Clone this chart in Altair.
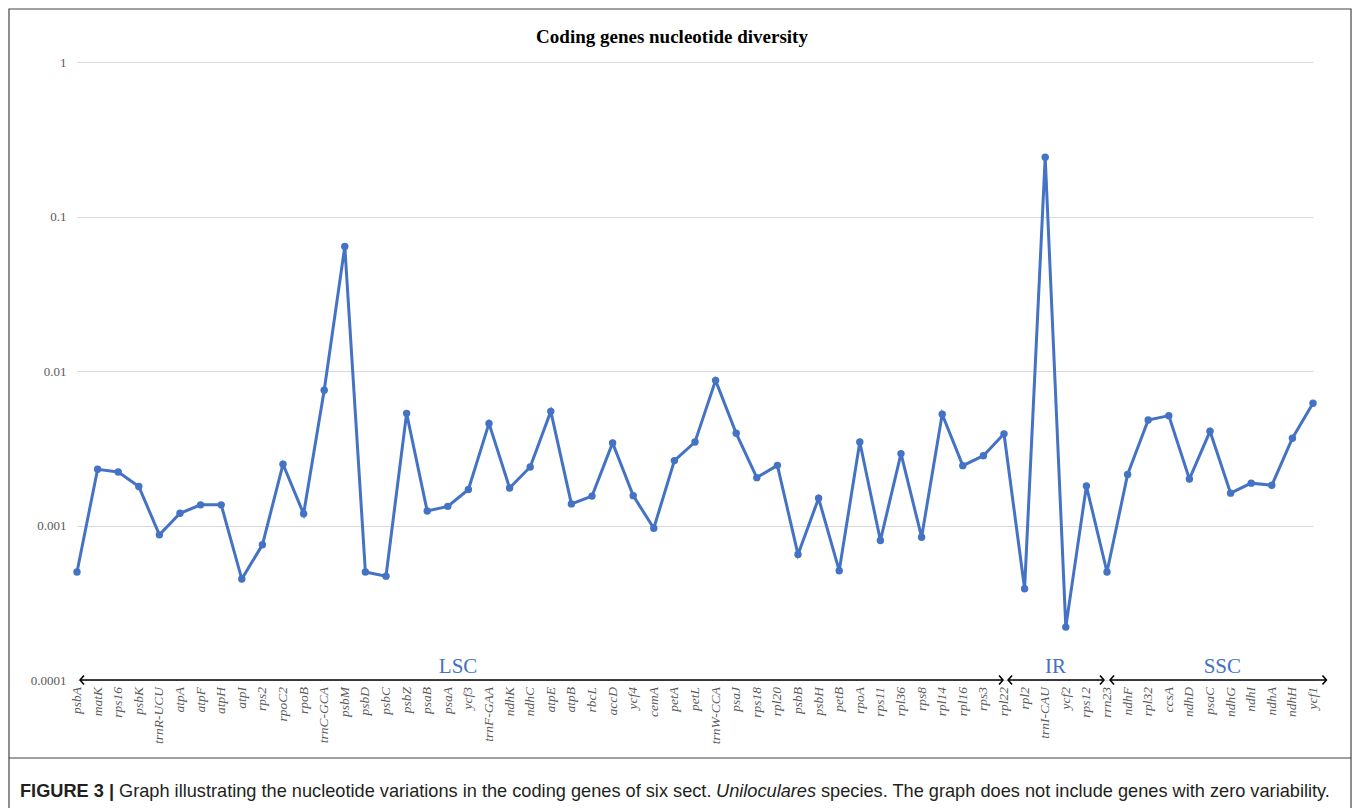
import altair as alt
import pandas as pd

# Coding genes with non-zero nucleotide diversity, in genome order
genes = [
    "psbA", "matK", "rps16", "psbK", "trnR-UCU", "atpA", "atpF", "atpH", "atpI", "rps2",
    "rpoC2", "rpoB", "trnC-GCA", "psbM", "psbD", "psbC", "psbZ", "psaB", "psaA", "ycf3",
    "trnF-GAA", "ndhK", "ndhC", "atpE", "atpB", "rbcL", "accD", "ycf4", "cemA", "petA",
    "petL", "trnW-CCA", "psaJ", "rps18", "rpl20", "psbB", "psbH", "petB", "rpoA", "rps11",
    "rpl36", "rps8", "rpl14", "rpl16", "rps3", "rpl22", "rpl2", "trnI-CAU", "ycf2", "rps12",
    "rrn23", "ndhF", "rpl32", "ccsA", "ndhD", "psaC", "ndhG", "ndhI", "ndhA", "ndhH", "ycf1",
]
diversity = [
    0.0005, 0.00231, 0.00222, 0.00179, 0.00087, 0.0012, 0.00136, 0.00136, 0.00045, 0.00075,
    0.00249, 0.00119, 0.0075, 0.064, 0.0005, 0.00047, 0.00532, 0.00124, 0.00133, 0.00171,
    0.00458, 0.00175, 0.00239, 0.00548, 0.00138, 0.00155, 0.00342, 0.00156, 0.00096, 0.00263,
    0.00347, 0.0087, 0.00395, 0.00204, 0.00245, 0.00065, 0.0015, 0.00051, 0.00347, 0.0008,
    0.00292, 0.00084, 0.00525, 0.00244, 0.00283, 0.00392, 0.00039, 0.242, 0.00022, 0.0018,
    0.0005, 0.00214, 0.00482, 0.00514, 0.002, 0.00407, 0.00162, 0.00188, 0.00182, 0.00367, 0.00618,
]
y_ticks = [0.0001, 0.001, 0.01, 0.1, 1]

# Chloroplast genome regions drawn as double-headed arrows along the x axis
region_names = ["LSC", "IR", "SSC"]
region_start = [0.15, 45.2, 50.15]
region_end = [44.95, 49.85, 60.65]
region_label_pos = [18.5, 47.5, 55.6]

BLUE = "#4472C4"
GREY = "#595959"
SERIF = "Liberation Serif"
W, H = 1236, 618
LEFT, TOP = 77, 62

df = pd.DataFrame({"i": list(range(len(genes))), "gene": genes, "pi": diversity})
regions = pd.DataFrame({
    "region": region_names, "start": region_start, "end": region_end,
    "label_x": region_label_pos, "y": [0.0001] * 3,
})

x_scale = alt.Scale(domain=[0, len(genes) - 1], nice=False, zero=False)
y_scale = alt.Scale(type="log", domain=[0.0001, 1], nice=False)

x_enc = alt.X("i:Q", scale=x_scale, axis=None)
y_enc = alt.Y(
    "pi:Q", scale=y_scale,
    axis=alt.Axis(
        values=y_ticks, format="~g", labelFont=SERIF, labelFontSize=13, labelColor=GREY,
        labelPadding=11, ticks=False, domain=False, gridColor="#d9d9d9", gridWidth=1,
        title=None,
    ),
)

line = alt.Chart(df).mark_line(color=BLUE, strokeWidth=3).encode(x=x_enc, y=y_enc)
dots = alt.Chart(df).mark_circle(color=BLUE, size=55, opacity=1).encode(
    x="i:Q", y="pi:Q"
)

# Gene names under the axis, rotated to read bottom-to-top
gene_labels = alt.Chart(df).mark_text(
    angle=270, align="right", baseline="middle", font=SERIF, fontStyle="italic",
    fontSize=13.5, color=GREY,
).encode(x="i:Q", y=alt.value(H + 7), text="gene:N")

arrow_base = alt.Chart(regions)
shaft = arrow_base.mark_rule(color="black", strokeWidth=1.6).encode(
    x="start:Q", x2="end:Q", y="y:Q"
)
head_left = arrow_base.mark_point(
    shape="M1.3,-1.5L0,0L1.3,1.5", filled=False, color="black", strokeWidth=1.6,
    size=36, opacity=1,
).encode(x="start:Q", y="y:Q")
head_right = arrow_base.mark_point(
    shape="M-1.3,-1.5L0,0L-1.3,1.5", filled=False, color="black", strokeWidth=1.6,
    size=36, opacity=1,
).encode(x="end:Q", y="y:Q")
region_text = arrow_base.mark_text(
    font=SERIF, fontSize=21, color=BLUE, baseline="bottom", dy=-3
).encode(x="label_x:Q", y="y:Q", text="region:N")

one = alt.Data(values=[{}])
title = alt.Chart(one).mark_text(
    text="Coding genes nucleotide diversity", font=SERIF, fontSize=19,
    fontWeight="bold", color="black", align="center", baseline="middle",
).encode(x=alt.value(672 - LEFT), y=alt.value(37 - TOP))

frame = alt.Chart(one).mark_rect(fill=None, stroke="#444444", strokeWidth=1.2).encode(
    x=alt.value(9 - LEFT), x2=alt.value(1351 - LEFT),
    y=alt.value(9 - TOP), y2=alt.value(758 - TOP),
)
side_left = alt.Chart(one).mark_rule(color="#444444", strokeWidth=1.2).encode(
    x=alt.value(9 - LEFT), y=alt.value(758 - TOP), y2=alt.value(820 - TOP)
)
side_right = alt.Chart(one).mark_rule(color="#444444", strokeWidth=1.2).encode(
    x=alt.value(1351 - LEFT), y=alt.value(758 - TOP), y2=alt.value(820 - TOP)
)

CAP_FONT = "Liberation Sans"
CAP_SIZE = 18.2
cap_y = 792 - TOP
caption_parts = [
    ("FIGURE 3 |", 20, "bold", "normal"),
    ("Graph illustrating the nucleotide variations in the coding genes of six sect.", 119, "normal", "normal"),
    ("Uniloculares", 716, "normal", "italic"),
    ("species. The graph does not include genes with zero variability.", 821, "normal", "normal"),
]
caption = [
    alt.Chart(one).mark_text(
        text=t, font=CAP_FONT, fontSize=CAP_SIZE, fontWeight=fw, fontStyle=fs,
        color="#231f20", align="left", baseline="middle",
    ).encode(x=alt.value(x0 - LEFT), y=alt.value(cap_y))
    for t, x0, fw, fs in caption_parts
]

chart = alt.layer(
    frame, side_left, side_right, title, line, dots, gene_labels, shaft, head_left,
    head_right, region_text, *caption,
).properties(
    width=W, height=H,
    autosize=alt.AutoSizeParams(type="none"),
    padding={"left": LEFT, "top": TOP, "right": 1360 - LEFT - W, "bottom": 808 - TOP - H},
    background="white",
).configure_view(stroke=None)

chart.save("out.html", embed_options={"renderer": "svg", "actions": False})
